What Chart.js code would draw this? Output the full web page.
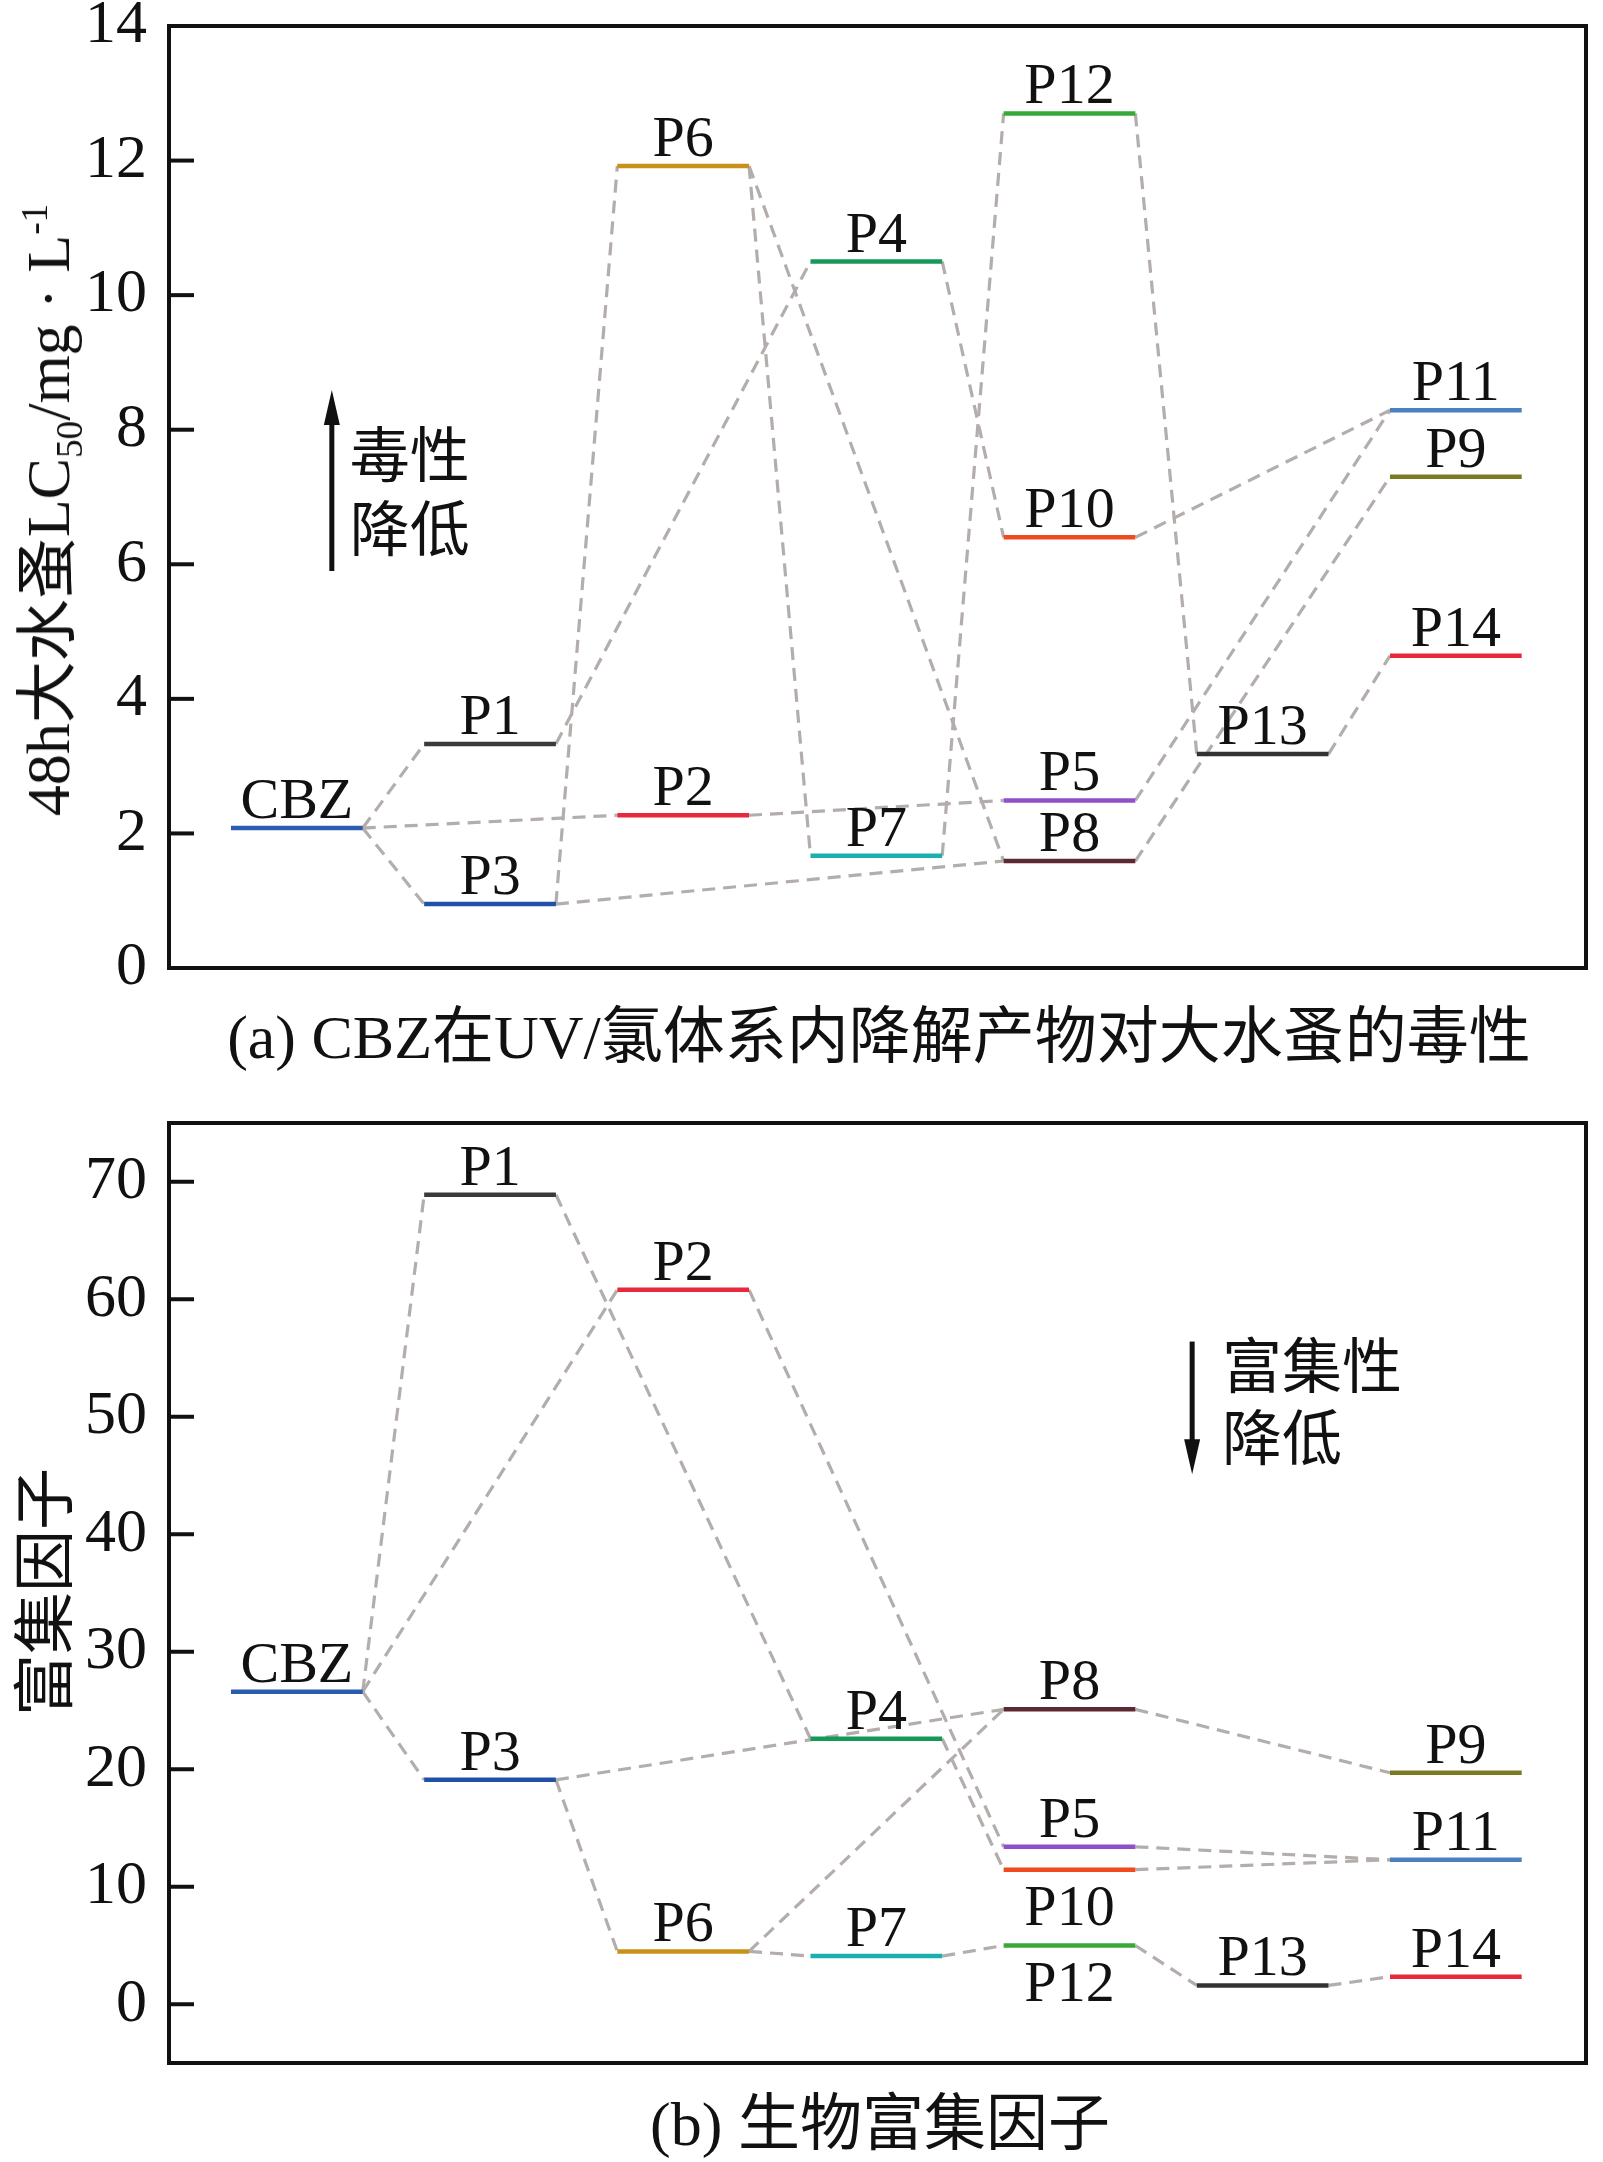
<!DOCTYPE html>
<html>
<head>
<meta charset="utf-8">
<script src="https://cdn.jsdelivr.net/npm/chart.js@4.4.1/dist/chart.umd.min.js"></script>
<style>
  body { margin: 0; width: 1603px; height: 2162px; position: relative; background: #fff; }
  canvas { position: absolute; left: 0; }
  .txt { position: absolute; white-space: nowrap; color: #111;
         font-family: "Liberation Serif", "Times New Roman", "Noto Sans CJK SC", serif; }
  .ytitle { font-size: 62px; transform: translate(-50%, -50%) rotate(-90deg); }
  .ytitle sub, .ytitle sup { font-size: 0.6em; line-height: 0; }
  .caption { font-size: 62px; transform: translate(-50%, -50%); }
</style>
</head>
<body>
<canvas id="lc50" width="1603" height="1080" style="top:0"></canvas>
<canvas id="bcf" width="1603" height="1082" style="top:1080px"></canvas>

<div class="txt ytitle" style="left:42px;top:510px">48h大水蚤LC<sub>50</sub>/mg · L<sup>-1</sup></div>
<div class="txt caption" style="left:879px;top:1031px">(a) CBZ在UV/氯体系内降解产物对大水蚤的毒性</div>
<div class="txt ytitle" style="left:40px;top:1592px">富集因子</div>
<div class="txt caption" style="left:880px;top:2118px">(b) 生物富集因子</div>

<script>
const serif = '"Liberation Serif", "Times New Roman", serif';

// 产物及其所在列
const compounds = ['CBZ', 'P1', 'P2', 'P3', 'P4', 'P5', 'P6', 'P7', 'P8', 'P9', 'P10', 'P11', 'P12', 'P13', 'P14'];
const columnIndex = [0, 1, 2, 1, 3, 4, 2, 3, 4, 6, 4, 6, 4, 5, 6];
const lineColors = ['#2a5db0', '#3a3a3a', '#e8283c', '#2050a8', '#16985a', '#9050c8', '#c8921a', '#1ab0b0',
                    '#5a2a30', '#7a7a20', '#f04a1e', '#4a80c0', '#38a838', '#333333', '#e82838'];

// (a) 48h LC50 (mg/L)
const lc50 = [2.08, 3.33, 2.27, 0.95, 10.50, 2.49, 11.92, 1.67, 1.59, 7.30, 6.40, 8.29, 12.70, 3.18, 4.64];
const lc50Ticks = [0, 2, 4, 6, 8, 10, 12, 14];
const lc50Links = [['CBZ', 'P1'], ['CBZ', 'P3'], ['CBZ', 'P2'], ['P1', 'P4'], ['P3', 'P6'], ['P3', 'P8'],
                   ['P6', 'P7'], ['P6', 'P8'], ['P2', 'P5'], ['P4', 'P10'], ['P7', 'P12'], ['P12', 'P13'],
                   ['P10', 'P11'], ['P5', 'P11'], ['P8', 'P9'], ['P13', 'P14']];
const lc50Below = [];

// (b) 生物富集因子
const bcf = [26.6, 68.9, 60.8, 19.1, 22.6, 13.4, 4.5, 4.1, 25.1, 19.7, 11.45, 12.3, 5.0, 1.6, 2.35];
const bcfTicks = [0, 10, 20, 30, 40, 50, 60, 70];
const bcfLinks = [['CBZ', 'P1'], ['CBZ', 'P2'], ['CBZ', 'P3'], ['P1', 'P4'], ['P2', 'P5'], ['P3', 'P8'],
                  ['P3', 'P6'], ['P6', 'P8'], ['P6', 'P7'], ['P4', 'P10'], ['P7', 'P12'], ['P12', 'P13'],
                  ['P8', 'P9'], ['P5', 'P11'], ['P10', 'P11'], ['P13', 'P14']];
const bcfBelow = ['P10', 'P12'];

const halfWidth = 0.341; // 每条能级线的半宽（列单位）

function buildChart(id, values, links, ticks, yMin, yMax, below, note, pad) {
    const datasets = [];
    links.forEach(([a, b]) => {
        const ia = compounds.indexOf(a), ib = compounds.indexOf(b);
        datasets.push({
            data: [{ x: columnIndex[ia] + halfWidth, y: values[ia] }, { x: columnIndex[ib] - halfWidth, y: values[ib] }],
            showLine: true, borderColor: '#b3adab', borderWidth: 3.2, borderDash: [13, 8],
            pointRadius: 0, order: 2
        });
    });
    compounds.forEach((name, i) => {
        datasets.push({
            data: [{ x: columnIndex[i] - halfWidth, y: values[i] }, { x: columnIndex[i] + halfWidth, y: values[i] }],
            showLine: true, borderColor: lineColors[i], borderWidth: 4.5, borderCapStyle: 'butt',
            pointRadius: 0, order: 1
        });
    });

    const decor = {
        id: 'decor',
        afterDatasetsDraw(chart) {
            const { ctx, chartArea: ca, scales: { x, y } } = chart;
            ctx.save();
            // 能级标签
            ctx.fillStyle = '#111';
            ctx.font = '58px ' + serif;
            ctx.textAlign = 'center';
            ctx.textBaseline = 'alphabetic';
            compounds.forEach((name, i) => {
                const px = x.getPixelForValue(columnIndex[i]);
                const py = y.getPixelForValue(values[i]);
                ctx.fillText(name, px, below.includes(name) ? py + 55 : py - 10);
            });
            // 箭头注释
            const ax = x.getPixelForValue(note.x);
            const tail = y.getPixelForValue(note.tail);
            const tip = y.getPixelForValue(note.tip);
            const dir = tip < tail ? 1 : -1;
            ctx.strokeStyle = '#111';
            ctx.lineWidth = 5;
            ctx.beginPath();
            ctx.moveTo(ax, tail);
            ctx.lineTo(ax, tip + dir * 25);
            ctx.stroke();
            ctx.beginPath();
            ctx.moveTo(ax, tip);
            ctx.lineTo(ax - 8, tip + dir * 35);
            ctx.lineTo(ax + 8, tip + dir * 35);
            ctx.closePath();
            ctx.fill();
            ctx.font = '60px "Noto Sans CJK SC"';
            ctx.textAlign = 'left';
            ctx.textBaseline = 'middle';
            note.lines.forEach((t, k) => {
                ctx.fillText(t, x.getPixelForValue(note.textX), y.getPixelForValue(note.textY[k]));
            });
            // 边框与内向刻度
            ctx.lineWidth = 4;
            ctx.strokeRect(ca.left, ca.top, ca.right - ca.left, ca.bottom - ca.top);
            ticks.forEach(v => {
                const ty = y.getPixelForValue(v);
                ctx.beginPath();
                ctx.moveTo(ca.left, ty);
                ctx.lineTo(ca.left + 25, ty);
                ctx.stroke();
            });
            ctx.restore();
        }
    };

    return new Chart(document.getElementById(id), {
        type: 'scatter',
        data: { datasets },
        options: {
            responsive: false,
            animation: false,
            devicePixelRatio: 1,
            layout: { padding: pad },
            plugins: { legend: { display: false }, tooltip: { enabled: false } },
            scales: {
                x: { type: 'linear', display: false, min: -0.662, max: 6.674 },
                y: {
                    min: yMin, max: yMax,
                    grid: { display: false, drawTicks: false },
                    border: { display: false },
                    afterBuildTicks: s => { s.ticks = ticks.map(v => ({ value: v })); },
                    afterFit: s => { s.width = 169; s.paddingTop = 0; s.paddingBottom = 0; },
                    ticks: { padding: 22, color: '#111', font: { family: serif, size: 62 } }
                }
            }
        },
        plugins: [decor]
    });
}

buildChart('lc50', lc50, lc50Links, lc50Ticks, 0, 14, lc50Below,
    { x: 0.181, tail: 5.90, tip: 8.59, textX: 0.274, textY: [7.64, 6.54], lines: ['毒性', '降低'] },
    { top: 26, right: 17, bottom: 112, left: 0 });

buildChart('bcf', bcf, bcfLinks, bcfTicks, -5, 75, bcfBelow,
    { x: 4.635, tail: 56.4, tip: 45.1, textX: 4.79, textY: [54.35, 48.3], lines: ['富集性', '降低'] },
    { top: 43, right: 17, bottom: 99, left: 0 });
</script>
</body>
</html>
